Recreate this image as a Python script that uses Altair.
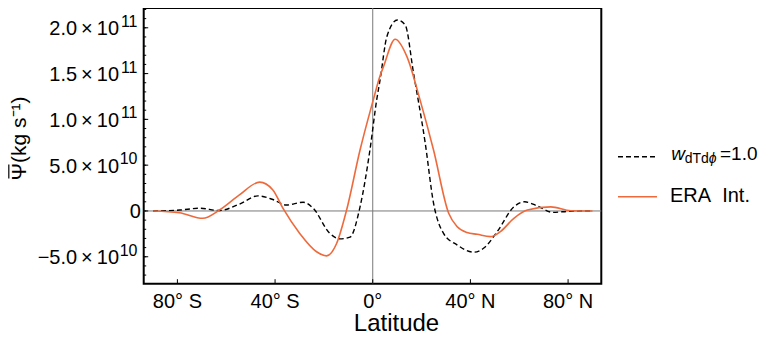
import altair as alt
import pandas as pd

# ---- data (values in units of 1e10 kg s^-1) ----
lat_era = [-90, -79.2, -69.6, -62.8, -54.6, -46.3, -40.9, -36.8, -29.9, -23, -18.9, -14.8,
           -10.7, -5.2, -1.1, 0.2, 3.0, 4.4, 9.2, 14, 19.4, 24.9, 31.1, 34.5, 38.6, 42.8,
           48.2, 52.3, 57.8, 63.3, 72.9, 81.1, 90]
psi_era = [0, -0.19, -0.8, 0.1, 1.75, 3.15, 2.3, 0.3, -2.45, -4.45, -4.9, -3.55,
           0.1, 6.65, 10.85, 12.1, 14.75, 15.75, 18.75, 16.85, 12.1, 6.65, -0.25, -1.7, -2.35, -2.55,
           -2.8, -2.25, -0.8, 0.1, 0.45, 0.03, 0]

lat_mod = [-90, -79, -71, -62.8, -54.6, -47, -40.9, -35.4, -28.5, -24.4, -17.6, -13.4,
           -9.3, -5.2, -1.1, 1.6, 3.0, 5.8, 10.1, 13.3, 16.7, 21.5, 24.9, 29, 34.5, 41.4,
           45.5, 51, 57.8, 62.2, 67.4, 73.6, 81, 90]
psi_mod = [0, 0.1, 0.3, 0.05, 0.75, 1.65, 1.25, 0.65, 0.95, 0.3, -2.45, -3.05,
           -2.85, 0.45, 6.75, 12.1, 14.3, 19.05, 20.85, 20.3, 15.05, 7.4, 0.85, -2.45, -3.7, -4.5,
           -4.05, -2.25, 0.45, 1.0, 0.55, -0.15, -0.03, 0]

x_ticks = [-80, -40, 0, 40, 80]
x_tick_labels = ["80° S", "40° S", "0°", "40° N", "80° N"]

y_major = [-5e10, 5e10, 1e11, 1.5e11, 2e11]
y_major_mant = ["−5.0", "5.0", "1.0", "1.5", "2.0"]
y_major_exp = ["10", "10", "11", "11", "11"]
y_minor = [-7e10, -6e10, -5e10, -4e10, -3e10, -2e10, -1e10, 0, 1e10, 2e10, 3e10, 4e10, 5e10,
           6e10, 7e10, 8e10, 9e10, 10e10, 11e10, 12e10, 13e10, 14e10, 15e10, 16e10, 17e10,
           18e10, 19e10, 20e10, 21e10, 22e10]

FONT = "Liberation Sans"
ORANGE = "#EE6A3C"
W, H = 457.6, 275.7

xs = alt.Scale(domain=[-93.8, 93.6], nice=False, zero=False)
ys = alt.Scale(domain=[-7.94e10, 2.216e11], nice=False, zero=False)

df_era = pd.DataFrame({"lat": lat_era, "psi": [v * 1e10 for v in psi_era]})
df_mod = pd.DataFrame({"lat": lat_mod, "psi": [v * 1e10 for v in psi_mod]})
df_xt = pd.DataFrame({"lat": x_ticks, "lab": x_tick_labels})
df_ymaj = pd.DataFrame({"val": y_major, "main": [m + "\u2009×\u200910" for m in y_major_mant],
                        "exp": y_major_exp})
df_ymin = pd.DataFrame({"val": y_minor})
df_zero = pd.DataFrame({"val": [0], "lab": ["0"]})
one = pd.DataFrame({"k": [0]})


def X(f):
    return alt.X(f, scale=xs, axis=None)


def Y(f):
    return alt.Y(f, scale=ys, axis=None)


zero_h = alt.Chart(df_zero).mark_rule(color="#777777", strokeWidth=1).encode(
    y=Y("val:Q"), x=alt.value(0), x2=alt.value(W))
zero_v = alt.Chart(df_zero).mark_rule(color="#777777", strokeWidth=1).encode(
    x=X("val:Q"), y=alt.value(0), y2=alt.value(H))

line_mod = alt.Chart(df_mod).mark_line(color="black", strokeWidth=1.4, strokeDash=[5, 3],
                                       interpolate="monotone").encode(
    x=X("lat:Q"), y=Y("psi:Q"))
line_era = alt.Chart(df_era).mark_line(color=ORANGE, strokeWidth=1.6,
                                       interpolate="monotone").encode(
    x=X("lat:Q"), y=Y("psi:Q"))

xtick = alt.Chart(df_xt).mark_rule(color="black", strokeWidth=1).encode(
    x=X("lat:Q"), y=alt.value(H), y2=alt.value(H - 4.5))
xlab = alt.Chart(df_xt).mark_text(font=FONT, fontSize=20, align="center",
                                  baseline="alphabetic", color="black").encode(
    x=X("lat:Q"), y=alt.value(300.5), text="lab:N")

ymin = alt.Chart(df_ymin).mark_rule(color="black", strokeWidth=1).encode(
    y=Y("val:Q"), x=alt.value(0), x2=alt.value(2.5))
ymaj = alt.Chart(df_ymaj).mark_rule(color="black", strokeWidth=1).encode(
    y=Y("val:Q"), x=alt.value(0), x2=alt.value(4.5))
ymaj0 = alt.Chart(df_zero).mark_rule(color="black", strokeWidth=1).encode(
    y=Y("val:Q"), x=alt.value(0), x2=alt.value(4.5))
ylab = alt.Chart(df_ymaj).mark_text(font=FONT, fontSize=20, align="right",
                                    baseline="alphabetic", dy=7.5, color="black").encode(
    y=Y("val:Q"), x=alt.value(-24.7), text="main:N")
yexp = alt.Chart(df_ymaj).mark_text(font=FONT, fontSize=16, align="right",
                                    baseline="alphabetic", dy=-1, color="black").encode(
    y=Y("val:Q"), x=alt.value(-6.2), text="exp:N")
ylab0 = alt.Chart(df_zero).mark_text(font=FONT, fontSize=20, align="right",
                                     baseline="alphabetic", dy=7.5, color="black").encode(
    y=Y("val:Q"), x=alt.value(-2.9), text="lab:N")


def txt(s, x, y, size, **kw):
    return alt.Chart(one).mark_text(font=FONT, fontSize=size, color="black", **kw).encode(
        x=alt.value(x), y=alt.value(y), text=alt.value(s))


ytitle = txt("Ψ(kg s⁻¹)", -124.2, 130.5, 21, align="center", baseline="middle", angle=270)
# overbar of Psi (title is rotated, so the bar is vertical)
ybar = alt.Chart(one).mark_rule(color="black", strokeWidth=1.2).encode(
    x=alt.value(-134.9), y=alt.value(156.5), y2=alt.value(170.5))
xtitle = txt("Latitude", 252.8, 323.5, 24, align="center", baseline="alphabetic")

# legend
leg_dash = alt.Chart(one).mark_rule(color="black", strokeWidth=1.4, strokeDash=[5, 3]).encode(
    x=alt.value(474.3), x2=alt.value(511.3), y=alt.value(148.7))
leg_w = txt("w", 527.5, 152, 19, fontStyle="italic", align="left", baseline="alphabetic")
leg_sub = txt("dTd", 541, 155.3, 14, align="left", baseline="alphabetic")
leg_phi = txt("ϕ", 565, 155.3, 14, fontStyle="italic", align="left", baseline="alphabetic")
leg_eq = txt("=1.0", 576.3, 152, 19, align="left", baseline="alphabetic")
leg_or = alt.Chart(one).mark_rule(color=ORANGE, strokeWidth=1.6).encode(
    x=alt.value(474.3), x2=alt.value(513.3), y=alt.value(188.7))
leg_era = txt("ERA\u00a0\u00a0Int.", 526.3, 193.7, 20, align="left", baseline="alphabetic")

chart = alt.layer(
    zero_h, zero_v, line_mod, line_era, xtick, xlab, ymin, ymaj, ymaj0, ylab, yexp, ylab0,
    ytitle, ybar, xtitle, leg_dash, leg_w, leg_sub, leg_phi, leg_eq, leg_or, leg_era
).properties(
    width=W, height=H,
    autosize=alt.AutoSizeParams(type="none"),
    padding={"left": 135.7, "top": 0, "right": 158, "bottom": 53},
).configure_view(stroke="black", strokeWidth=2)

chart.save("out.html", embed_options={"renderer": "svg", "actions": False})
